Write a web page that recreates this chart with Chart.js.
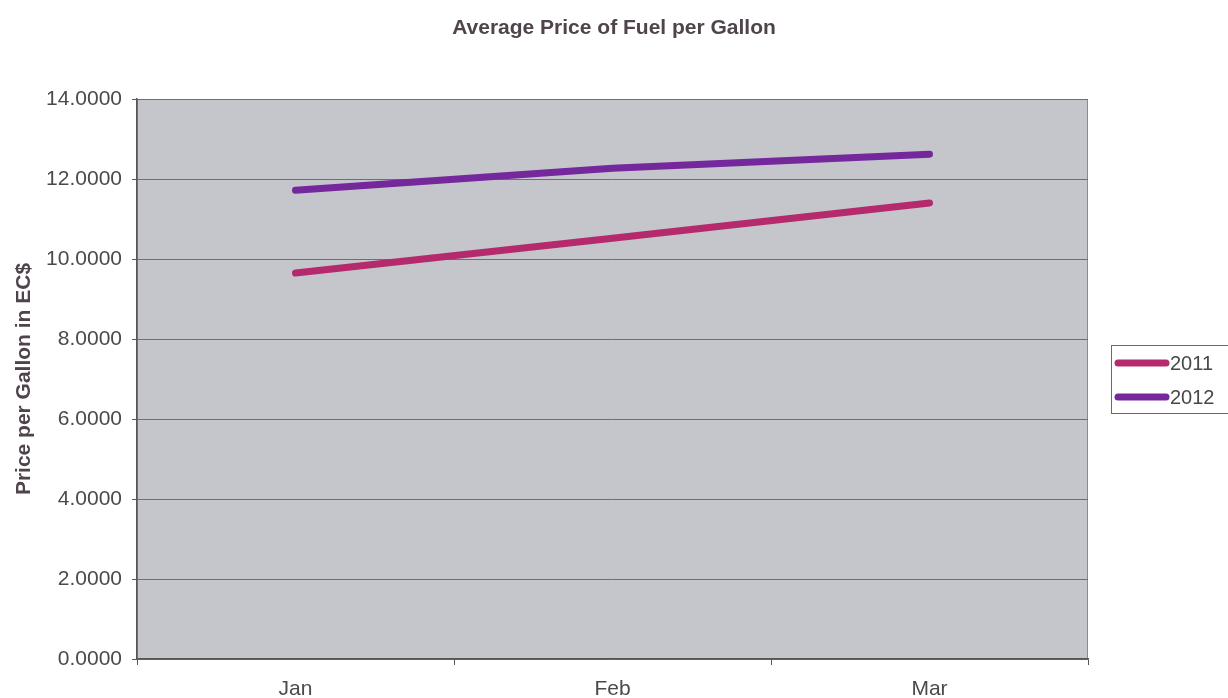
<!DOCTYPE html>
<html>
<head>
<meta charset="utf-8">
<title>Average Price of Fuel per Gallon</title>
<script src="https://cdn.jsdelivr.net/npm/chart.js@4/dist/chart.umd.min.js"></script>
<style>
  html, body { margin: 0; padding: 0; background: #ffffff; }
  #wrap { width: 1228px; height: 698px; position: relative; }
</style>
</head>
<body>
<div id="wrap"><canvas id="chart" width="1228" height="698"></canvas></div>
<script>
// Months on the category axis
const months = ['Jan', 'Feb', 'Mar'];
// Average price per gallon (EC$) for each year
const price2011 = [9.65, 10.52, 11.40];
const price2012 = [11.72, 12.27, 12.62];
const seriesNames = ['2011', '2012'];
const seriesColors = ['#b42a6c', '#74289c'];
const chartTitle = 'Average Price of Fuel per Gallon';

const FONT = 'Arial, "Liberation Sans", Helvetica, sans-serif';

// Grey plot area with a thin frame, painted behind the lines
const plotBackground = {
  id: 'plotBackground',
  beforeDraw(chart) {
    const { ctx, chartArea: a } = chart;
    ctx.save();
    ctx.fillStyle = '#c5c5cc';
    ctx.fillRect(a.left, a.top, a.right - a.left, a.bottom - a.top);
    ctx.strokeStyle = '#8a8a92';
    ctx.lineWidth = 1;
    ctx.strokeRect(a.left + 0.5, a.top + 0.5, a.right - a.left - 1, a.bottom - a.top - 1);
    ctx.restore();
  }
};

// Title centred across the full canvas width
const centeredTitle = {
  id: 'centeredTitle',
  afterDraw(chart) {
    const { ctx } = chart;
    ctx.save();
    ctx.fillStyle = '#4f444b';
    ctx.font = 'bold 21px ' + FONT;
    ctx.textAlign = 'center';
    ctx.textBaseline = 'middle';
    ctx.fillText(chartTitle, chart.width / 2, 28);
    ctx.restore();
  }
};

// Boxed legend to the right of the plot
const sideLegend = {
  id: 'sideLegend',
  afterDraw(chart) {
    const { ctx } = chart;
    const boxX = 1111, boxY = 345, boxW = 125, boxH = 68;
    ctx.save();
    ctx.fillStyle = '#ffffff';
    ctx.fillRect(boxX, boxY, boxW, boxH);
    ctx.strokeStyle = '#6a6a6a';
    ctx.lineWidth = 1;
    ctx.strokeRect(boxX + 0.5, boxY + 0.5, boxW, boxH);
    chart.data.datasets.forEach((ds, i) => {
      const y = 363 + i * 34;
      ctx.strokeStyle = ds.borderColor;
      ctx.lineWidth = 7;
      ctx.lineCap = 'round';
      ctx.beginPath();
      ctx.moveTo(1118, y);
      ctx.lineTo(1166, y);
      ctx.stroke();
      ctx.fillStyle = '#484848';
      ctx.font = '20px ' + FONT;
      ctx.textAlign = 'left';
      ctx.textBaseline = 'middle';
      ctx.fillText(ds.label, 1170, y + 1);
    });
    ctx.restore();
  }
};

new Chart(document.getElementById('chart'), {
  type: 'line',
  data: {
    labels: months,
    datasets: [
      { label: seriesNames[0], data: price2011, borderColor: seriesColors[0], backgroundColor: seriesColors[0] },
      { label: seriesNames[1], data: price2012, borderColor: seriesColors[1], backgroundColor: seriesColors[1] }
    ]
  },
  options: {
    responsive: false,
    animation: false,
    devicePixelRatio: 1,
    layout: { padding: { left: 0, right: 140, top: 99, bottom: 0 } },
    elements: {
      line: { borderWidth: 7, tension: 0, borderCapStyle: 'round', borderJoinStyle: 'round' },
      point: { radius: 0, hoverRadius: 0 }
    },
    plugins: {
      legend: { display: false },
      tooltip: { enabled: false },
      title: { display: false }
    },
    scales: {
      x: {
        offset: true,
        grid: { offset: true, drawOnChartArea: false, drawTicks: true, tickLength: 6, color: '#555', tickColor: '#555' },
        border: { display: true, color: '#555', width: 1.5 },
        ticks: { color: '#4a4a4a', padding: 12, font: { family: FONT, size: 21 } },
        afterFit(scale) { scale.height = 39; }
      },
      y: {
        min: 0,
        max: 14,
        grid: { color: '#6e6e76', lineWidth: 1, drawTicks: true, tickLength: 5, tickColor: '#555' },
        border: { display: true, color: '#555', width: 1.5 },
        ticks: {
          stepSize: 2,
          padding: 10,
          color: '#4a4a4a',
          font: { family: FONT, size: 21 },
          callback: v => Number(v).toFixed(4)
        },
        title: {
          display: true,
          text: 'Price per Gallon in EC$',
          color: '#4f444b',
          font: { family: FONT, size: 21, weight: 'bold', lineHeight: 1.2 },
          padding: { top: 12, bottom: 0 }
        },
        afterFit(scale) { scale.width = 137; }
      }
    }
  },
  plugins: [plotBackground, centeredTitle, sideLegend]
});
</script>
</body>
</html>
